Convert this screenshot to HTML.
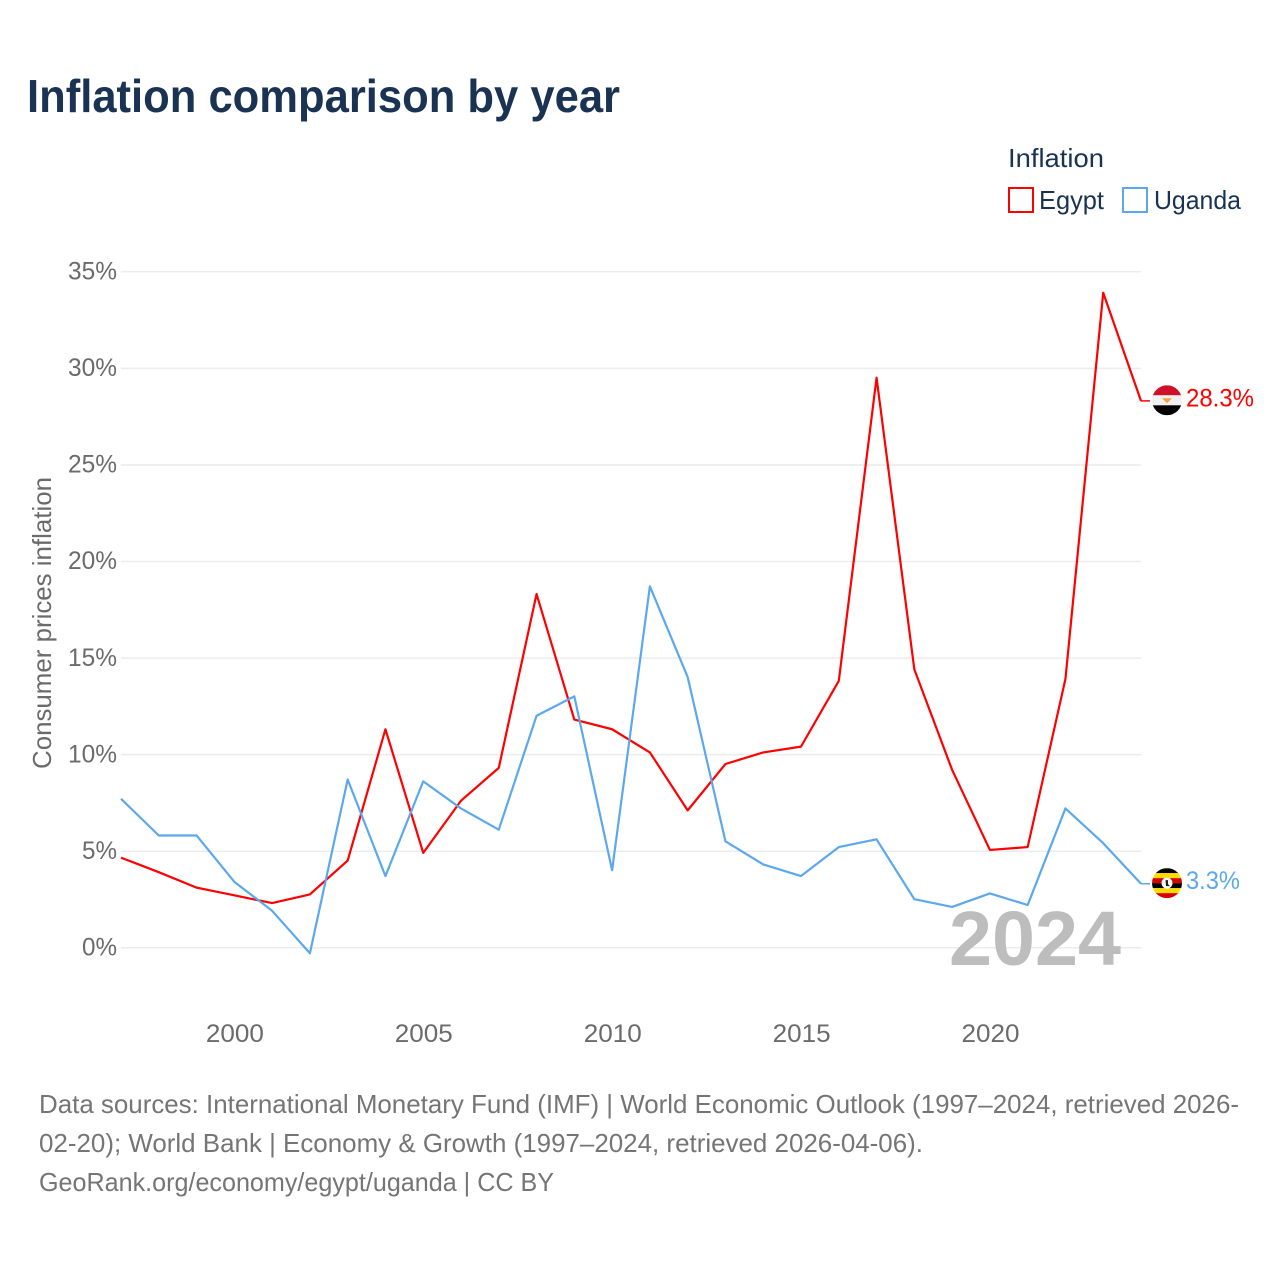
<!DOCTYPE html>
<html lang="en">
<head>
<meta charset="utf-8">
<title>Inflation comparison by year</title>
<style>
html,body{margin:0;padding:0;background:#fff;}
svg{display:block;font-family:"Liberation Sans",sans-serif;}
</style>
</head>
<body>
<svg id="chart" xmlns="http://www.w3.org/2000/svg" width="1280" height="1280" viewBox="0 0 1280 1280">
  <defs>
    <clipPath id="egypt-clip"><circle cx="0" cy="0" r="15"></circle></clipPath>
    <clipPath id="uganda-clip"><circle cx="0" cy="0" r="15"></circle></clipPath>
  </defs>
  <rect x="0" y="0" width="1280" height="1280" fill="#ffffff"></rect>
  <text x="27" y="112" font-size="46" font-weight="700" fill="#1a3353" textLength="593" lengthAdjust="spacingAndGlyphs">Inflation comparison by year</text>

  <text x="1008" y="167" font-size="26" fill="#1a3353" textLength="96" lengthAdjust="spacingAndGlyphs">Inflation</text>
  <rect x="1009" y="188" width="24" height="24" fill="none" stroke="#ff0000" stroke-width="2"></rect>
  <text x="1039" y="209" font-size="26" fill="#1a3353" textLength="65" lengthAdjust="spacingAndGlyphs">Egypt</text>
  <rect x="1123" y="188" width="24" height="24" fill="none" stroke="#5ba8ef" stroke-width="2"></rect>
  <text x="1154" y="209" font-size="26" fill="#1a3353" textLength="87" lengthAdjust="spacingAndGlyphs">Uganda</text>

  <g id="grid"></g>
  <g id="y-ticks"></g>
  <g id="x-ticks"></g>
  <text transform="translate(51,623) rotate(-90)" text-anchor="middle" font-size="26" fill="#6b6b6b" textLength="292" lengthAdjust="spacingAndGlyphs">Consumer prices inflation</text>

  <text x="949" y="965" font-size="77" font-weight="700" fill="#bdbdbd" textLength="172" lengthAdjust="spacingAndGlyphs">2024</text>

  <g id="series"></g>

  <g id="egypt-end">
    <g clip-path="url(#egypt-clip)">
      <rect x="-15" y="-15" width="30" height="10" fill="#ce1126"></rect>
      <rect x="-15" y="-5" width="30" height="10" fill="#f1f1f1"></rect>
      <rect x="-15" y="5" width="30" height="10" fill="#000000"></rect>
      <path d="M-5 -2 L5 -2 L2 1 L0 3 L-2 1 Z" fill="#f7a13c"></path>
    </g>
  </g>
  <g id="uganda-end">
    <g clip-path="url(#uganda-clip)">
      <rect x="-15" y="-15" width="30" height="5" fill="#000000"></rect>
      <rect x="-15" y="-10" width="30" height="5" fill="#fcdc04"></rect>
      <rect x="-15" y="-5" width="30" height="5" fill="#d90000"></rect>
      <rect x="-15" y="0" width="30" height="5" fill="#000000"></rect>
      <rect x="-15" y="5" width="30" height="5" fill="#fcdc04"></rect>
      <rect x="-15" y="10" width="30" height="5" fill="#d90000"></rect>
      <circle cx="0" cy="0" r="5.5" fill="#ffffff"></circle>
      <path d="M-1.5 -3 L1 -3 L1 1 L3 3 L-1 3 Z" fill="#222222"></path>
    </g>
  </g>

  <text x="39" y="1113" font-size="26" fill="#757575" textLength="1200" lengthAdjust="spacingAndGlyphs">Data sources: International Monetary Fund (IMF) | World Economic Outlook (1997–2024, retrieved 2026-</text>
  <text x="39" y="1152" font-size="26" fill="#757575" textLength="884" lengthAdjust="spacingAndGlyphs">02-20); World Bank | Economy &amp; Growth (1997–2024, retrieved 2026-04-06).</text>
  <text x="39" y="1191" font-size="26" fill="#757575" textLength="515" lengthAdjust="spacingAndGlyphs">GeoRank.org/economy/egypt/uganda | CC BY</text>
</svg>

<script>
const years = [1997,1998,1999,2000,2001,2002,2003,2004,2005,2006,2007,2008,2009,2010,2011,2012,2013,2014,2015,2016,2017,2018,2019,2020,2021,2022,2023,2024];
const egyptValues = [4.65,3.9,3.1,2.7,2.3,2.75,4.5,11.3,4.9,7.6,9.3,18.3,11.8,11.3,10.1,7.1,9.5,10.1,10.4,13.8,29.5,14.4,9.2,5.05,5.2,13.9,33.9,28.3];
const ugandaValues = [7.7,5.8,5.8,3.4,1.9,-0.3,8.7,3.7,8.6,7.2,6.1,12.0,13.0,4.0,18.7,14.0,5.5,4.3,3.7,5.2,5.6,2.5,2.1,2.8,2.2,7.2,5.4,3.3];
const yTickValues = [0,5,10,15,20,25,30,35];
const xTickValues = [2000,2005,2010,2015,2020];

const SVG_NS = 'http://www.w3.org/2000/svg';
function xScale(year) { return 121 + (year - 1997) * (1020 / 27); }
function yScale(pct) { return 947.5 - pct * (676 / 35); }
function make(tag, parent, attrs) {
  const el = document.createElementNS(SVG_NS, tag);
  for (const k in attrs) el.setAttribute(k, attrs[k]);
  parent.appendChild(el);
  return el;
}

const gridGroup = document.getElementById('grid');
const yTickGroup = document.getElementById('y-ticks');
yTickValues.forEach(function (v) {
  const gy = yScale(v) + 0.3;
  const line = make('line', gridGroup, { x1: 121, x2: 1141, y1: gy, y2: gy, stroke: '#ececec', 'stroke-width': 1.5 });
  
  
  const label = make('text', yTickGroup, { x: 117, y: yScale(v) + 8, 'text-anchor': 'end', 'font-size': 25, fill: '#6b6b6b', textLength: v < 10 ? 35 : 49, lengthAdjust: 'spacingAndGlyphs' });
  
  
  label.textContent = v + '%';
});

const xTickGroup = document.getElementById('x-ticks');
xTickValues.forEach(function (v) {
  const label = make('text', xTickGroup, { x: xScale(v) + 0.6, y: 1042, 'text-anchor': 'middle', 'font-size': 25, fill: '#6b6b6b', textLength: 58, lengthAdjust: 'spacingAndGlyphs' });
  
  
  label.textContent = v;
});

function pointsFor(values) {
  return values.map(function (v, i) { return xScale(years[i]).toFixed(2) + ',' + yScale(v).toFixed(2); }).join(' ');
}

const seriesGroup = document.getElementById('series');
const egyptLine = make('polyline', seriesGroup, { points: pointsFor(egyptValues), fill: 'none', stroke: '#ff0000', 'stroke-width': 2.2, 'stroke-linejoin': 'round' });


const ugandaLine = make('polyline', seriesGroup, { points: pointsFor(ugandaValues), fill: 'none', stroke: '#5ba8ef', 'stroke-width': 2.2, 'stroke-linejoin': 'round' });



function placeEnd(groupId, values, color) {
  const last = values[values.length - 1];
  const cy = yScale(last) - 0.6;
  const group = document.getElementById(groupId);
  const flag = group.querySelector('g');
  flag.setAttribute('transform', 'translate(1167,' + cy + ')');
  return { group: group, cy: cy, last: last, color: color };
}

const egyptEnd = placeEnd('egypt-end', egyptValues, '#ff0000');
const egyptConnector = make('line', egyptEnd.group, { x1: 1141, x2: 1150, y1: yScale(egyptEnd.last), y2: yScale(egyptEnd.last), stroke: egyptEnd.color, 'stroke-width': 1.5 });


const egyptLabel = make('text', egyptEnd.group, { x: 1186, y: egyptEnd.cy + 6, 'font-size': 25, fill: egyptEnd.color, textLength: 68, lengthAdjust: 'spacingAndGlyphs' });


egyptLabel.textContent = egyptEnd.last.toFixed(1) + '%';

const ugandaEnd = placeEnd('uganda-end', ugandaValues, '#5ba8ef');
const ugandaConnector = make('line', ugandaEnd.group, { x1: 1141, x2: 1150, y1: yScale(ugandaEnd.last), y2: yScale(ugandaEnd.last), stroke: ugandaEnd.color, 'stroke-width': 1.5 });


const ugandaLabel = make('text', ugandaEnd.group, { x: 1186, y: ugandaEnd.cy + 6, 'font-size': 25, fill: ugandaEnd.color, textLength: 54, lengthAdjust: 'spacingAndGlyphs' });


ugandaLabel.textContent = ugandaEnd.last.toFixed(1) + '%';
</script>
</body>
</html>
